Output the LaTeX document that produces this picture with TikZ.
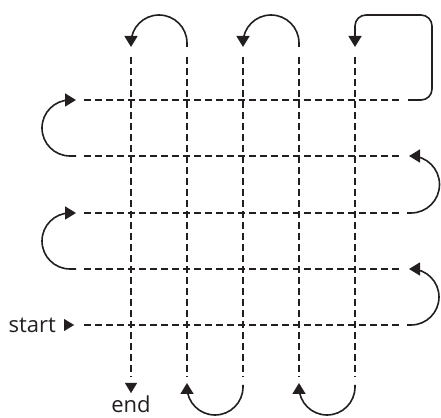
\documentclass[tikz,border=0pt]{standalone}
\usepackage{fontspec}
\setmainfont{Open Sans}
\usetikzlibrary{arrows.meta}
\definecolor{ink}{HTML}{231F20}
\begin{document}
\begin{tikzpicture}[x=1pt,y=1pt,
  grid/.style={draw=ink,line width=1.5pt,dash pattern=on 7pt off 4pt},
  loop/.style={draw=ink,line width=1.6pt,-{Triangle[length=11pt,width=13pt]}},
  tip/.style={draw=ink,line width=0.1pt,fill=ink,-{Triangle[length=10pt,width=12pt]}},
  lab/.style={text=ink,font=\fontsize{22}{26}\selectfont,inner sep=0pt}]
\useasboundingbox (0,0) rectangle (441,417);
% grid coordinates
\foreach \i/\x in {1/131,2/187,3/243,4/299,5/355}{
  \coordinate (vt\i) at (\x,360);
  \coordinate (vb\i) at (\x,40);
}
\foreach \j/\y in {1/317,2/261,3/204,4/148,5/92}{
  \coordinate (hl\j) at (84,\y);
  \coordinate (hr\j) at (402,\y);
}
% dashed grid
\foreach \i in {1,...,5}{\path[grid] (vt\i) -- (vb\i);}
\foreach \j in {1,...,5}{\path[grid] (hl\j) -- (hr\j);}
% end arrow on first column
\coordinate (endtip) at (131,24);
\coordinate (endbase) at (131,34);
\path[tip] (endbase) -- (endtip);
\node[lab,anchor=north] (end) at (131,21) {end};
% start
\node[lab,anchor=east] (start) at (56,92) {start};
\coordinate (st1) at (64,92);
\coordinate (st2) at (74,92);
\path[tip] (st1) -- (st2);
% top loops
\coordinate (a1) at (187,370);
\coordinate (a2) at (131,370);
\path[loop] (a1) -- ++(0,4) arc[start angle=0,end angle=180,radius=28] -- (a2);
\coordinate (b1) at (299,370);
\coordinate (b2) at (243,370);
\path[loop] (b1) -- ++(0,4) arc[start angle=0,end angle=180,radius=28] -- (b2);
\coordinate (c1) at (408,317);
\coordinate (c2) at (355,370);
\path[loop,rounded corners=11pt] (c1) -- (432,317) -- (432,402) -- (355,402) -- (c2);
% left loops
\coordinate (d1) at (76,261);
\coordinate (d2) at (76,317);
\path[loop] (d1) -- ++(-6,0) arc[start angle=270,end angle=90,radius=28] -- (d2);
\coordinate (e1) at (76,148);
\coordinate (e2) at (76,204);
\path[loop] (e1) -- ++(-6,0) arc[start angle=270,end angle=90,radius=28] -- (e2);
% right loops
\coordinate (f1) at (407,204);
\coordinate (f2) at (409,261);
\path[loop] (f1) -- (411,204) arc[start angle=-90,end angle=90,radius=28.5] -- (f2);
\coordinate (g1) at (407,92);
\coordinate (g2) at (409,148);
\path[loop] (g1) -- (411,92) arc[start angle=-90,end angle=90,radius=28] -- (g2);
% bottom loops
\coordinate (h1) at (243,32);
\coordinate (h2) at (187,34);
\path[loop] (h1) -- (243,30) arc[start angle=0,end angle=-180,radius=28] -- (h2);
\coordinate (k1) at (355,32);
\coordinate (k2) at (299,34);
\path[loop] (k1) -- (355,30) arc[start angle=0,end angle=-180,radius=28] -- (k2);
\end{tikzpicture}
\end{document}
